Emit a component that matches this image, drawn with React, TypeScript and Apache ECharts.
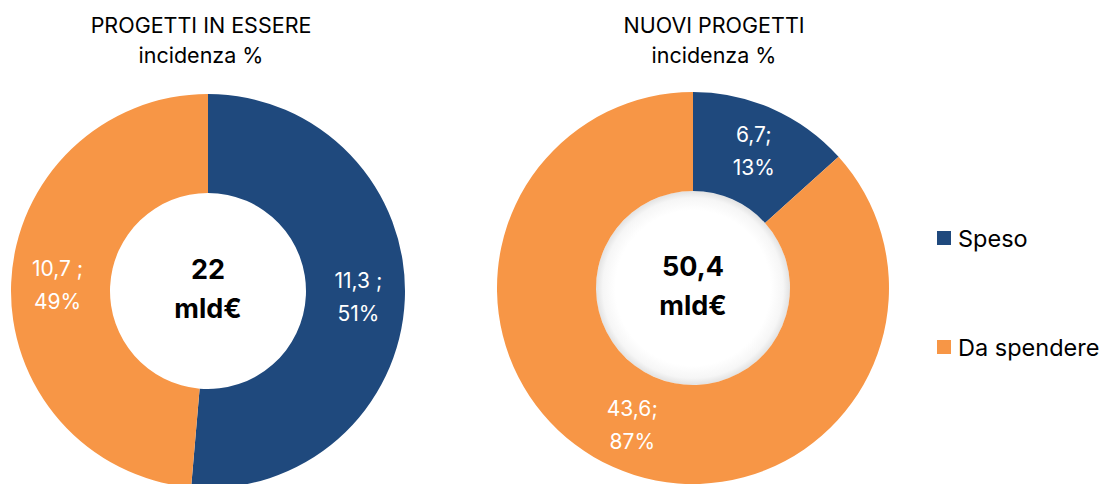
import React, { useEffect, useRef } from "react";
import * as echarts from "echarts";

const categories = ["Speso", "Da spendere"];
const leftValues = [11.3, 10.7];
const rightValues = [6.7, 43.6];
const leftTitle = ["PROGETTI IN ESSERE", "incidenza %"];
const rightTitle = ["NUOVI PROGETTI", "incidenza %"];
const leftTotal = "22";
const rightTotal = "50,4";
const leftSep = " ;";
const rightSep = ";";
const colors = ["#1F497D", "#F79646"];
const FONT = "Inter, 'Liberation Sans', sans-serif";

function fmt(v: number) {
  return v.toFixed(1).replace(".", ",");
}

export default function App() {
  const ref = useRef<HTMLDivElement>(null);
  useEffect(() => {
    if (!ref.current) return;
    const chart = echarts.init(ref.current, undefined, { renderer: "svg" });
    const mkSeries = (name: string, values: number[], center: number[], radius: number[], sep: string) => {
      const total = values.reduce((a, b) => a + b, 0);
      return {
        type: "pie",
        name,
        center,
        radius,
        startAngle: 90,
        clockwise: true,
        silent: true,
        itemStyle: { borderWidth: 0 },
        label: {
          show: true,
          position: "inside",
          color: "#ffffff",
          fontFamily: FONT,
          fontSize: 21,
          lineHeight: 33,
          formatter: (p: any) => `${fmt(p.value)}${sep}\n${Math.round((p.value / total) * 100)}%`,
        },
        labelLine: { show: false },
        data: values.map((v, i) => ({ name: categories[i], value: v, itemStyle: { color: colors[i] } })),
      };
    };
    const titleText = (lines: string[], x: number) => ({
      type: "text",
      x,
      y: 10,
      style: {
        text: lines.join("\n"),
        textAlign: "center",
        fontFamily: FONT,
        fontSize: 21.5,
        lineHeight: 30,
        fill: "#000000",
      },
    });
    const centerText = (t: string, x: number, y: number) => ({
      type: "text",
      x,
      y,
      z: 10,
      style: {
        text: t + "\nmld€",
        textAlign: "center",
        fontFamily: FONT,
        fontSize: 27,
        fontWeight: "bold",
        lineHeight: 39,
        fill: "#000000",
      },
    });
    chart.setOption({
      animation: false,
      backgroundColor: "#ffffff",
      legend: {
        orient: "vertical",
        left: 932,
        top: 221,
        itemWidth: 14,
        itemHeight: 14,
        itemGap: 85,
        icon: "rect",
        textStyle: { fontFamily: FONT, fontSize: 23.5, color: "#000000", padding: [0, 0, 0, 2] },
        data: categories,
      },
      graphic: [
        {
          type: "circle",
          z: 1,
          silent: true,
          shape: { cx: 693, cy: 288, r: 97 },
          style: {
            fill: new echarts.graphic.RadialGradient(0.5, 0.5, 0.5, [
              { offset: 0, color: "#ffffff" },
              { offset: 0.8, color: "#ffffff" },
              { offset: 0.93, color: "#f6f6f6" },
              { offset: 1, color: "#e2e2e2" },
            ]),
          },
        },
        titleText(leftTitle, 201),
        titleText(rightTitle, 714),
        centerText(leftTotal, 208, 250),
        centerText(rightTotal, 693, 247),
      ],
      series: [
        mkSeries("PROGETTI IN ESSERE", leftValues, [208, 291], [98, 197], leftSep),
        mkSeries("NUOVI PROGETTI", rightValues, [693, 288], [97, 196], rightSep),
      ],
    });
    return () => chart.dispose();
  }, []);
  return (
    <div
      ref={ref}
      style={{ position: "fixed", left: 0, top: 0, width: 1104, height: 484, background: "#fff" }}
    />
  );
}
